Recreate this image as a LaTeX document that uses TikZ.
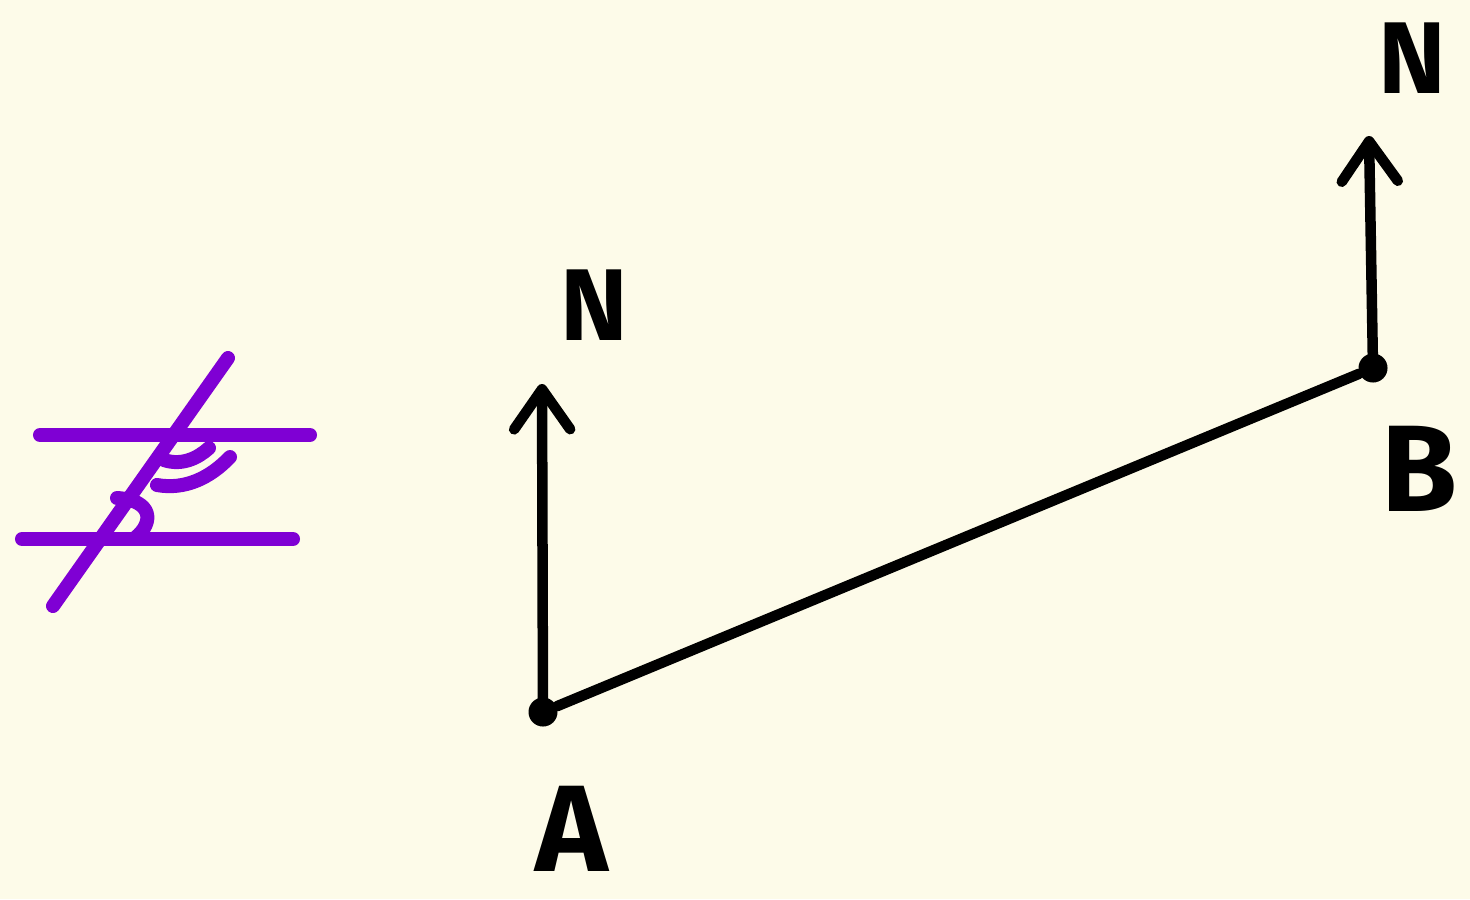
\documentclass[tikz,border=0pt]{standalone}
\usepackage{fontspec}
\setmainfont{Fira Sans}
\usetikzlibrary{arrows.meta}
\definecolor{bg}{RGB}{253,251,233}
\definecolor{purp}{RGB}{127,0,212}
\begin{document}
\begin{tikzpicture}[x=0.01cm,y=-0.01cm,
  ink/.style={line width=0.105cm,line cap=round,line join=round,black},
  pstroke/.style={line width=0.14cm,line cap=round,line join=round,purp},
  dot/.style={circle,fill=black,inner sep=0pt,minimum size=0.29cm},
  northarrow/.style={ink,-{Straight Barb[length=4mm,width=5.6mm,round]}},
  bigletter/.style={font=\fontsize{35}{36}\selectfont\bfseries,inner sep=0pt},
  nletter/.style={font=\fontsize{29}{31}\selectfont\bfseries,inner sep=0pt}]
\fill[bg] (0,0) rectangle (1470,899);
\useasboundingbox (0,0) rectangle (1470,899);
% points
\node[dot] (A) at (543,712) {};
\node[dot] (B) at (1373,368) {};
\coordinate (NA) at (542,384);
\coordinate (NB) at (1369,136);
\draw[ink] (A) -- (B);
\draw[northarrow] (A.center) -- (NA);
\draw[northarrow] (B.center) -- (NB);
% labels
\node[nletter] (labNA) at (594,305) {N};
\node[nletter] (labNB) at (1412,58) {N};
\node[bigletter] (labA) at (572,829) {A};
\node[bigletter] (labB) at (1419,469) {B};
% purple parallel-lines symbol
\coordinate (t1) at (40,435);
\coordinate (t2) at (310,435);
\coordinate (b1) at (22,539);
\coordinate (b2) at (293,539);
\coordinate (s1) at (228,358);
\coordinate (s2) at (53,606);
\draw[pstroke] (t1) -- (t2);
\draw[pstroke] (b1) -- (b2);
\draw[pstroke] (s1) -- (s2);
\draw[pstroke] (164,460) .. controls (182,466) and (198,458) .. (209,448);
\draw[pstroke] (157,485) .. controls (185,490) and (210,478) .. (230,457);
\draw[pstroke] (117,498) .. controls (152,500) and (155,522) .. (135,538);
\end{tikzpicture}
\end{document}
